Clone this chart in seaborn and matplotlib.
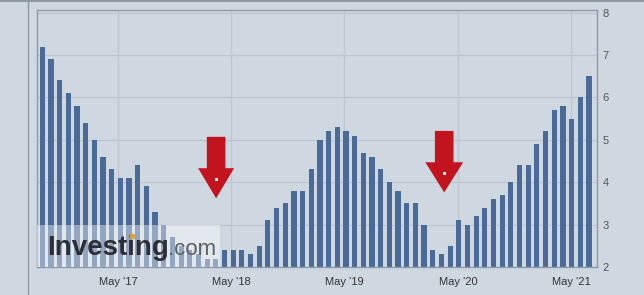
import numpy as np
import pandas as pd
import matplotlib
matplotlib.use("Agg")
import matplotlib.pyplot as plt
import matplotlib.dates as mdates
import seaborn as sns
from matplotlib.patches import FancyArrow, Rectangle
from matplotlib.lines import Line2D

# ---- data ----
values = [7.2, 6.9, 6.4, 6.1, 5.8, 5.4, 5.0, 4.6, 4.3, 4.1,
          4.1, 4.4, 3.9, 3.3, 3.0, 2.7, 2.5, 2.4, 2.3, 2.2,
          2.2, 2.4, 2.4, 2.4, 2.3, 2.5, 3.1, 3.4, 3.5, 3.8,
          3.8, 4.3, 5.0, 5.2, 5.3, 5.2, 5.1, 4.7, 4.6, 4.3,
          4.0, 3.8, 3.5, 3.5, 3.0, 2.4, 2.3, 2.5, 3.1, 3.0,
          3.2, 3.4, 3.6, 3.7, 4.0, 4.4, 4.4, 4.9, 5.2, 5.7,
          5.8, 5.5, 6.0, 6.5]
dates = pd.date_range("2016-08-29", periods=len(values), freq="28D")
tick_dates = ["2017-05-01", "2018-05-01", "2019-05-01", "2020-05-01", "2021-05-01"]
tick_labels = ["May '17", "May '18", "May '19", "May '20", "May '21"]
y_ticks = [2, 3, 4, 5, 6, 7, 8]
arrow_dates = ["2018-03-13", "2020-03-18"]

bg = "#cfd8e1"
bar_color = "#4a6a98"
grid_color = "#bcc5d0"
frame_color = "#8d99a5"

plt.rcParams["font.family"] = ["Liberation Sans", "DejaVu Sans"]

fig = plt.figure(figsize=(6.44, 2.95), dpi=100, facecolor=bg)
ax = fig.add_axes([37 / 644, 28 / 295, 560 / 644, 257 / 295])
ax.set_facecolor(bg)

df = pd.DataFrame({"x": mdates.date2num(dates), "v": values})
sns.barplot(data=df, x="x", y="v", native_scale=True, color=bar_color,
            saturation=1, width=0.6, errorbar=None, ax=ax, zorder=2)

ax.set_xlim(mdates.date2num(pd.Timestamp("2016-08-12")),
            mdates.date2num(pd.Timestamp("2021-07-24")))
ax.set_ylim(2, 2 + 257 / 42.4)

ax.set_xticks(mdates.date2num(pd.to_datetime(tick_dates)))
ax.set_xticklabels(tick_labels)
ax.set_yticks(y_ticks)
ax.set_yticklabels([str(t) for t in y_ticks])
ax.yaxis.tick_right()
ax.tick_params(axis="y", length=0, pad=4, labelsize=8, labelcolor="#555555")
ax.tick_params(axis="x", length=0, pad=7, labelsize=8, labelcolor="#333333")
ax.set_xlabel("")
ax.set_ylabel("")
ax.grid(True, color=grid_color, lw=0.9)
ax.set_axisbelow(True)
for s in ax.spines.values():
    s.set_color(frame_color)
    s.set_linewidth(1)

# watermark band
x0 = ax.get_xlim()[0]
x1 = mdates.date2num(pd.Timestamp("2018-03-26"))
ax.add_patch(Rectangle((x0, 2), x1 - x0, 1, facecolor="white", alpha=0.4,
                       edgecolor="none", zorder=3))
ax.text(10 / 560, 12 / 257, "Investing", transform=ax.transAxes, fontsize=20,
        fontweight="bold", color="#2c2f35", va="baseline", ha="left", zorder=4)
ax.text(131 / 560, 12 / 257, ".com", transform=ax.transAxes, fontsize=16,
        color="#5b6067", va="baseline", ha="left", zorder=4)
ax.plot([94.5 / 560], [31 / 257], transform=ax.transAxes, marker="o", ms=4.2,
        color="#d9a43a", mec="none", zorder=5)

# red arrows
arrow_specs = [(5.07, 3.62, 60, 116), (5.21, 3.76, 60, 122)]
for d, (top, tip, w, hw) in zip(arrow_dates, arrow_specs):
    xc = mdates.date2num(pd.Timestamp(d))
    ax.add_patch(FancyArrow(xc, top, 0, tip - top, width=w, head_width=hw,
                            head_length=0.71, length_includes_head=True,
                            facecolor="#c1141f", edgecolor="none", zorder=5))
    ax.plot([xc], [tip + 0.45], marker="s", ms=1.2, color="white", zorder=6)

# outer frame
fig.add_artist(Line2D([27.5 / 644, 27.5 / 644], [0, 1], transform=fig.transFigure,
                      color=frame_color, lw=1))
fig.add_artist(Line2D([0, 1], [294.5 / 295, 294.5 / 295], transform=fig.transFigure,
                      color=frame_color, lw=1.5))

fig.savefig("out.png", dpi=100, facecolor=bg)
